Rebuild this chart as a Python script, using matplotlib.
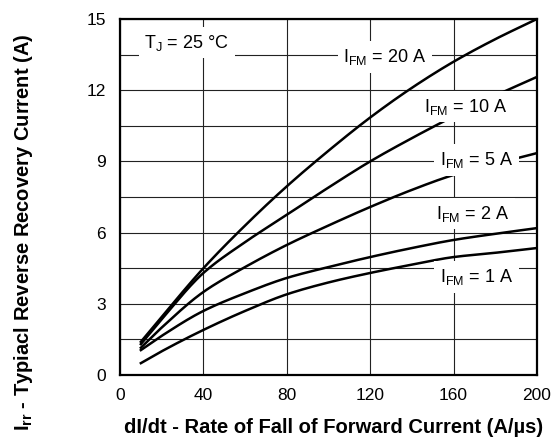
import matplotlib
matplotlib.use("Agg")
import matplotlib.pyplot as plt
import numpy as np

plt.rcParams["font.family"] = ["Liberation Sans", "DejaVu Sans"]
plt.rcParams["mathtext.fontset"] = "custom"
plt.rcParams["mathtext.rm"] = "Liberation Sans"
plt.rcParams["mathtext.bf"] = "Liberation Sans:bold"

# Rate of fall of forward current (A/us)
di_dt = [10, 20, 40, 60, 80, 100, 120, 140, 160, 180, 200]

# Reverse recovery current (A) for each forward current
irr_20a = [1.4, 2.45, 4.5, 6.3, 7.95, 9.45, 10.85, 12.1, 13.2, 14.15, 15.0]
irr_10a = [1.3, 2.35, 4.3, 5.6, 6.75, 7.9, 9.0, 9.98, 10.9, 11.77, 12.56]
irr_5a = [1.15, 2.0, 3.5, 4.55, 5.48, 6.3, 7.08, 7.8, 8.43, 8.9, 9.35]
irr_2a = [1.05, 1.65, 2.7, 3.45, 4.09, 4.55, 4.97, 5.35, 5.69, 5.95, 6.19]
irr_1a = [0.5, 1.0, 1.9, 2.7, 3.4, 3.9, 4.3, 4.65, 4.97, 5.15, 5.35]

curve_labels = ["20 A", "10 A", "5 A", "2 A", "1 A"]
label_pos = [(127, 13.4), (166, 11.3), (171, 9.06), (169, 6.8), (171, 4.13)]


def smooth(x, y, n=200):
    """ Monotone cubic (Fritsch-Carlson) curve through the read points """
    xs = np.linspace(x[0], x[-1], n)
    x = np.asarray(x, float)
    y = np.asarray(y, float)
    h = np.diff(x)
    d = np.diff(y) / h
    m = np.zeros_like(y)
    m[0] = d[0]
    m[-1] = d[-1]
    for i in range(1, len(y) - 1):
        if d[i - 1] * d[i] > 0:
            w1 = 2 * h[i] + h[i - 1]
            w2 = h[i] + 2 * h[i - 1]
            m[i] = (w1 + w2) / (w1 / d[i - 1] + w2 / d[i])
    idx = np.clip(np.searchsorted(x, xs) - 1, 0, len(x) - 2)
    t = (xs - x[idx]) / h[idx]
    h00 = 2 * t**3 - 3 * t**2 + 1
    h10 = t**3 - 2 * t**2 + t
    h01 = -2 * t**3 + 3 * t**2
    h11 = t**3 - t**2
    ys = (h00 * y[idx] + h10 * h[idx] * m[idx]
          + h01 * y[idx + 1] + h11 * h[idx] * m[idx + 1])
    return xs, ys


fig = plt.figure(figsize=(5.59, 4.48), dpi=100)
ax = fig.add_axes([0.2147, 0.1629, 0.7459, 0.7947])

for series in [irr_20a, irr_10a, irr_5a, irr_2a, irr_1a]:
    xs, ys = smooth(di_dt, series)
    ax.plot(xs, ys, color="black", lw=1.8, zorder=3)

ax.set_xlim(0, 200)
ax.set_ylim(0, 15)
ax.set_xticks(range(0, 201, 40))
ax.set_yticks(range(0, 16, 3))
ax.set_yticks(np.arange(0, 15.1, 1.5), minor=True)
ax.grid(True, which="both", color="#222222", lw=0.8, zorder=1)
ax.tick_params(which="both", length=0, labelsize=12.5)
ax.tick_params(axis="x", pad=9)
ax.tick_params(axis="y", pad=10)
for spine in ax.spines.values():
    spine.set_linewidth(1.6)

box = dict(facecolor="white", edgecolor="none", pad=4)
ax.text(32, 14.0, r"T$_\mathregular{J}$ = 25 °C", fontsize=13,
        ha="center", va="center", bbox=box, zorder=4)
for lab, (px, py) in zip(curve_labels, label_pos):
    ax.text(px, py, r"I$_\mathregular{FM}$ = " + lab, fontsize=13,
            ha="center", va="center", bbox=box, zorder=4)

ax.set_xlabel("dI/dt - Rate of Fall of Forward Current (A/µs)",
              fontsize=14.5, fontweight="bold")
ax.xaxis.set_label_coords(0.512, -0.121)
ax.set_ylabel(r"I$_\mathbf{rr}$ - Typiacl Reverse Recovery Current (A)",
              fontsize=14.5, fontweight="bold")
ax.yaxis.set_label_coords(-0.204, 0.402)

plt.savefig("out.png", dpi=100)
